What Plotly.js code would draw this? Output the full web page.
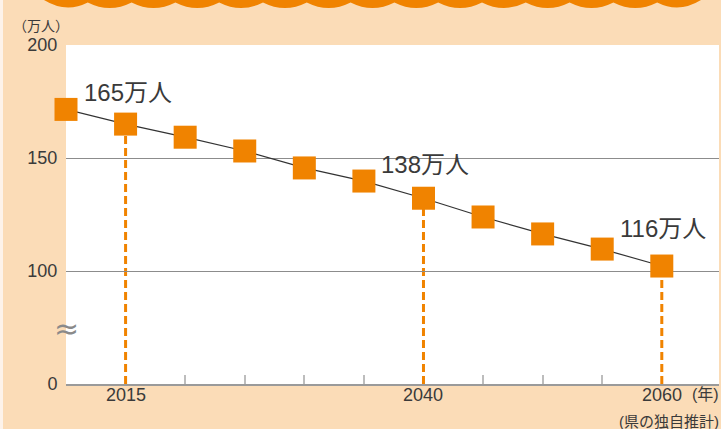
<!DOCTYPE html>
<html>
<head>
<meta charset="utf-8">
<script src="https://cdn.plot.ly/plotly-3.0.1.min.js"></script>
<style>html,body{margin:0;padding:0;background:#fff;}#chart{width:721px;height:429px;}</style>
</head>
<body>
<div id="chart"></div>
<script>
// ---- data ----
const years = [2010, 2015, 2020, 2025, 2030, 2035, 2040, 2045, 2050, 2055, 2060];
const population = [171.5, 165.0, 159.2, 153.1, 145.6, 139.8, 132.2, 123.9, 116.4, 109.7, 102.2];
const highlightYears = [2015, 2040, 2060];
const highlightLabels = ['165万人', '138万人', '116万人'];
const xTickYears = [2015, 2040, 2060];
const xTickLabels = ['2015', '2040', '2060'];
const minorTickYears = [2020, 2025, 2030, 2035, 2045, 2050, 2055];
const yTickVals = [50, 100, 150, 200];       // 50 = broken-axis base shown as 0
const yTickText = ['0', '100', '150', '200'];
const yAxisBase = 50;
const unitLabel = '（万人）';
const yearLabel = '(年)';
const sourceLabel = '(県の独自推計)';

// ---- style ----
const ORANGE = '#F08300';
const PEACH = '#FBDCB7';
const FONT = 'Liberation Sans, Arial, Noto Sans CJK JP, sans-serif';
const TXT = '#3a3a3a';
const W = 721, H = 429, ML = 66, MR = 2, MT = 45, MB = 45;
const PW = W - ML - MR, PH = H - MT - MB;
const X = px => (px - ML) / PW;
const Y = py => (H - MB - py) / PH;
const labelYShift = [32, 34, 38];

// wavy band at top
const n = 15, wx0 = 44, wx1 = 701, per = (wx1 - wx0) / n;
let path = `M ${X(wx0)},${Y(0)}`;
for (let i = 0; i < n; i++) {
  const xs = wx0 + i * per, xe = xs + per;
  const ye = (i === n - 1) ? 0 : 2.5;
  path += ` Q ${X(xs + per / 2)},${Y(13.5)} ${X(xe)},${Y(ye)}`;
}
path += ' Z';

const shapes = [
  {type: 'path', xref: 'paper', yref: 'paper', path: path, fillcolor: ORANGE, line: {width: 0}, layer: 'above'},
  {type: 'rect', xref: 'paper', yref: 'paper', x0: X(0), x1: X(3), y0: Y(H), y1: Y(0), fillcolor: '#fdf3ea', line: {width: 0}, layer: 'below'}
];
highlightYears.forEach(yr => {
  const v = population[years.indexOf(yr)];
  shapes.push({type: 'line', xref: 'x', yref: 'y', x0: yr, x1: yr, y0: yAxisBase, y1: v,
    line: {color: ORANGE, width: 3, dash: '8px,4px'}, layer: 'below'});
});

const annotations = highlightYears.map((yr, i) => ({
  x: yr, y: population[years.indexOf(yr)], xref: 'x', yref: 'y',
  text: highlightLabels[i], showarrow: false, xanchor: 'left', yanchor: 'middle',
  xshift: -44, yshift: labelYShift[i], font: {family: FONT, size: 24, color: TXT}
}));
xTickYears.forEach((yr, i) => annotations.push({
  x: yr, xref: 'x', yref: 'paper', y: Y(395), text: xTickLabels[i], showarrow: false,
  xanchor: 'center', yanchor: 'middle', font: {family: FONT, size: 18, color: TXT}
}));
annotations.push(
  {xref: 'paper', yref: 'paper', x: X(41), y: Y(26), text: unitLabel, showarrow: false,
   xanchor: 'center', yanchor: 'middle', font: {family: FONT, size: 14, color: TXT}},
  {xref: 'paper', yref: 'paper', x: X(721), y: Y(395), text: yearLabel, showarrow: false,
   xanchor: 'right', yanchor: 'middle', font: {family: FONT, size: 16, color: TXT}},
  {xref: 'paper', yref: 'paper', x: X(721), y: Y(421), text: sourceLabel, showarrow: false,
   xanchor: 'right', yanchor: 'middle', font: {family: FONT, size: 15, color: TXT}},
  {xref: 'paper', yref: 'paper', x: 0, y: Y(328), text: '≈', showarrow: false,
   xanchor: 'center', yanchor: 'middle', font: {family: 'DejaVu Sans, sans-serif', size: 30, color: '#8a8a8a'}}
);

const trace = {
  x: years, y: population, type: 'scatter', mode: 'lines+markers', cliponaxis: false,
  line: {color: '#333333', width: 1.2},
  marker: {symbol: 'square', size: 23, color: ORANGE, line: {width: 0}},
  hoverinfo: 'skip'
};

const layout = {
  width: W, height: H,
  margin: {l: ML, r: MR, t: MT, b: MB, pad: 0},
  paper_bgcolor: PEACH, plot_bgcolor: '#ffffff',
  showlegend: false,
  font: {family: FONT, color: TXT},
  xaxis: {
    range: [2010, 2064.8], showgrid: false, zeroline: false,
    tickmode: 'array', tickvals: xTickYears, showticklabels: false, ticks: '',
    showline: true, linecolor: '#9a9a9a', linewidth: 1.5,
    minor: {tickmode: 'array', tickvals: minorTickYears, ticks: 'inside', ticklen: 9, tickwidth: 2, tickcolor: '#bdbdbd', showgrid: false},
    fixedrange: true
  },
  yaxis: {
    range: [yAxisBase, 200], showgrid: true, gridcolor: '#8c8c8c', gridwidth: 1, zeroline: false,
    tickmode: 'array', tickvals: yTickVals, ticktext: yTickText,
    ticks: 'outside', ticklen: 4, tickcolor: 'rgba(0,0,0,0)',
    tickfont: {family: FONT, size: 18, color: TXT},
    showline: false, fixedrange: true
  },
  shapes: shapes,
  annotations: annotations
};

Plotly.newPlot('chart', [trace], layout, {displayModeBar: false, staticPlot: true});
</script>
</body>
</html>
